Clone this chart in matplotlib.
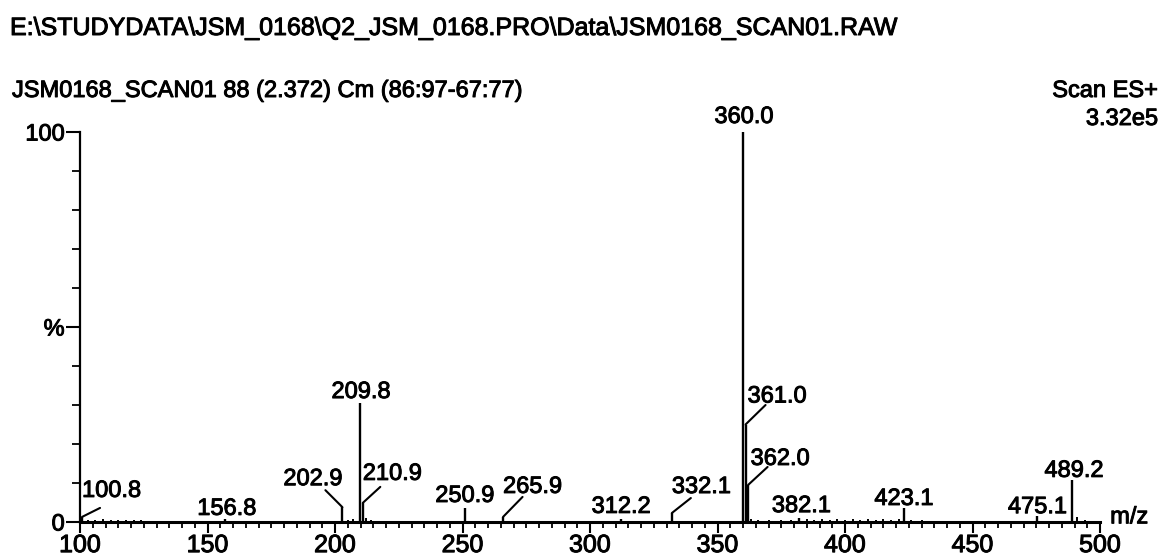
import matplotlib
matplotlib.use('Agg')
import matplotlib.pyplot as plt
import matplotlib.patheffects as pe
from matplotlib.ticker import MultipleLocator, FixedLocator, FixedFormatter

plt.rcParams['font.family'] = ['Liberation Sans', 'DejaVu Sans']
# scanned print looks a bit heavier than plain Arial
thick = [pe.withStroke(linewidth=0.7, foreground='black')]

# labelled peaks (m/z, relative intensity %)
peak_mz = [100.8, 156.8, 202.9, 209.8, 210.9, 250.9, 265.9, 312.2, 332.1,
           360.0, 361.0, 362.0, 382.1, 423.1, 475.1, 489.2]
peak_int = [1.3, 0.8, 3.8, 30.5, 4.9, 3.6, 1.3, 0.8, 2.3,
            100.0, 25.0, 9.5, 1.0, 3.6, 1.5, 10.8]

# small unlabelled noise peaks along the baseline
noise_mz = [103, 106, 109, 112, 115, 118, 121, 124, 205, 207, 212, 214,
            363, 366, 370, 375, 379, 385, 388, 391, 394, 397, 400, 403,
            406, 409, 412, 415, 418, 421, 426, 430, 491, 494]
noise_int = [0.6, 0.5, 0.7, 0.5, 0.6, 0.4, 0.5, 0.4, 0.6, 0.8, 1.0, 0.6,
             0.8, 0.6, 0.5, 0.4, 0.5, 0.7, 0.6, 0.8, 0.6, 0.7, 0.6, 0.8,
             0.6, 0.7, 0.6, 0.7, 0.6, 0.8, 0.6, 0.5, 1.2, 0.6]

# label placement: text offset (px), alignment, leader start offset (px) or None
lab_off = [(0, 20), (2, 4), (0, 22), (1, 5), (0, 23), (0, 6), (0, 24), (0, 6),
           (0, 20), (1, 9), (2, 22), (2.5, 20), (2, 6), (0, 3), (1, 3), (1.5, 3)]
lab_ha = ['left', 'center', 'right', 'center', 'left', 'center', 'left', 'center',
          'left', 'center', 'left', 'left', 'center', 'center', 'center', 'center']
lead = [(18, 9), None, (-17, 17), None, (17.5, 16), None, (19.5, 20), None,
        (19, 15), None, (20, 19.5), (19.5, 18), None, None, None, None]

W, H = 1165, 560
fig = plt.figure(figsize=(W / 100, H / 100), dpi=100)
ax = fig.add_axes([80 / W, 38 / H, 1020 / W, 390 / H])

ax.vlines(noise_mz, 0, noise_int, color='black', lw=1.4)
ax.vlines(peak_mz, 0, peak_int, color='black', lw=1.7)

for i in range(len(peak_mz)):
    if lead[i] is not None:
        ax.annotate('', xy=(peak_mz[i], peak_int[i]), xytext=lead[i],
                    textcoords='offset pixels',
                    arrowprops=dict(arrowstyle='-', color='black', lw=1.5,
                                    shrinkA=0, shrinkB=0))
    ax.annotate(f'{peak_mz[i]:.1f}', xy=(peak_mz[i], peak_int[i]), xytext=lab_off[i],
                textcoords='offset pixels', ha=lab_ha[i], va='baseline',
                fontsize=17, color='black', path_effects=thick)

ax.set_xlim(100, 500)
ax.set_ylim(0, 100)
ax.spines['top'].set_visible(False)
ax.spines['right'].set_visible(False)
ax.spines['left'].set_linewidth(1.6)
ax.spines['bottom'].set_linewidth(2.2)

ax.xaxis.set_major_locator(MultipleLocator(50))
ax.xaxis.set_minor_locator(MultipleLocator(5))
ax.tick_params(axis='x', which='major', length=8, width=1.5, labelsize=18, pad=0)
ax.tick_params(axis='x', which='minor', length=4, width=1.3)

ax.yaxis.set_major_locator(FixedLocator([0, 50, 100]))
ax.yaxis.set_major_formatter(FixedFormatter(['0', '%', '100']))
ax.yaxis.set_minor_locator(MultipleLocator(10))
ax.tick_params(axis='y', which='major', length=10, width=1.5, labelsize=17, pad=1)
ax.tick_params(axis='y', which='minor', length=6, width=1.3)

for lbl in ax.get_xticklabels() + ax.get_yticklabels():
    lbl.set_path_effects(thick)

ax.text(1.01, 0.012, 'm/z', transform=ax.transAxes, ha='left', va='center',
        fontsize=17, path_effects=thick)

fig.text(10 / W, 1 - 35 / H, r'E:\STUDYDATA\JSM_0168\Q2_JSM_0168.PRO\Data\JSM0168_SCAN01.RAW',
         fontsize=18, ha='left', va='baseline', path_effects=thick)
fig.text(12 / W, 1 - 97 / H, 'JSM0168_SCAN01 88 (2.372) Cm (86:97-67:77)',
         fontsize=17, ha='left', va='baseline', path_effects=thick)
fig.text(1158 / W, 1 - 97 / H, 'Scan ES+', fontsize=17, ha='right', va='baseline',
         path_effects=thick)
fig.text(1158 / W, 1 - 125 / H, '3.32e5', fontsize=17, ha='right', va='baseline',
         path_effects=thick)

fig.savefig('out.png', dpi=100)
